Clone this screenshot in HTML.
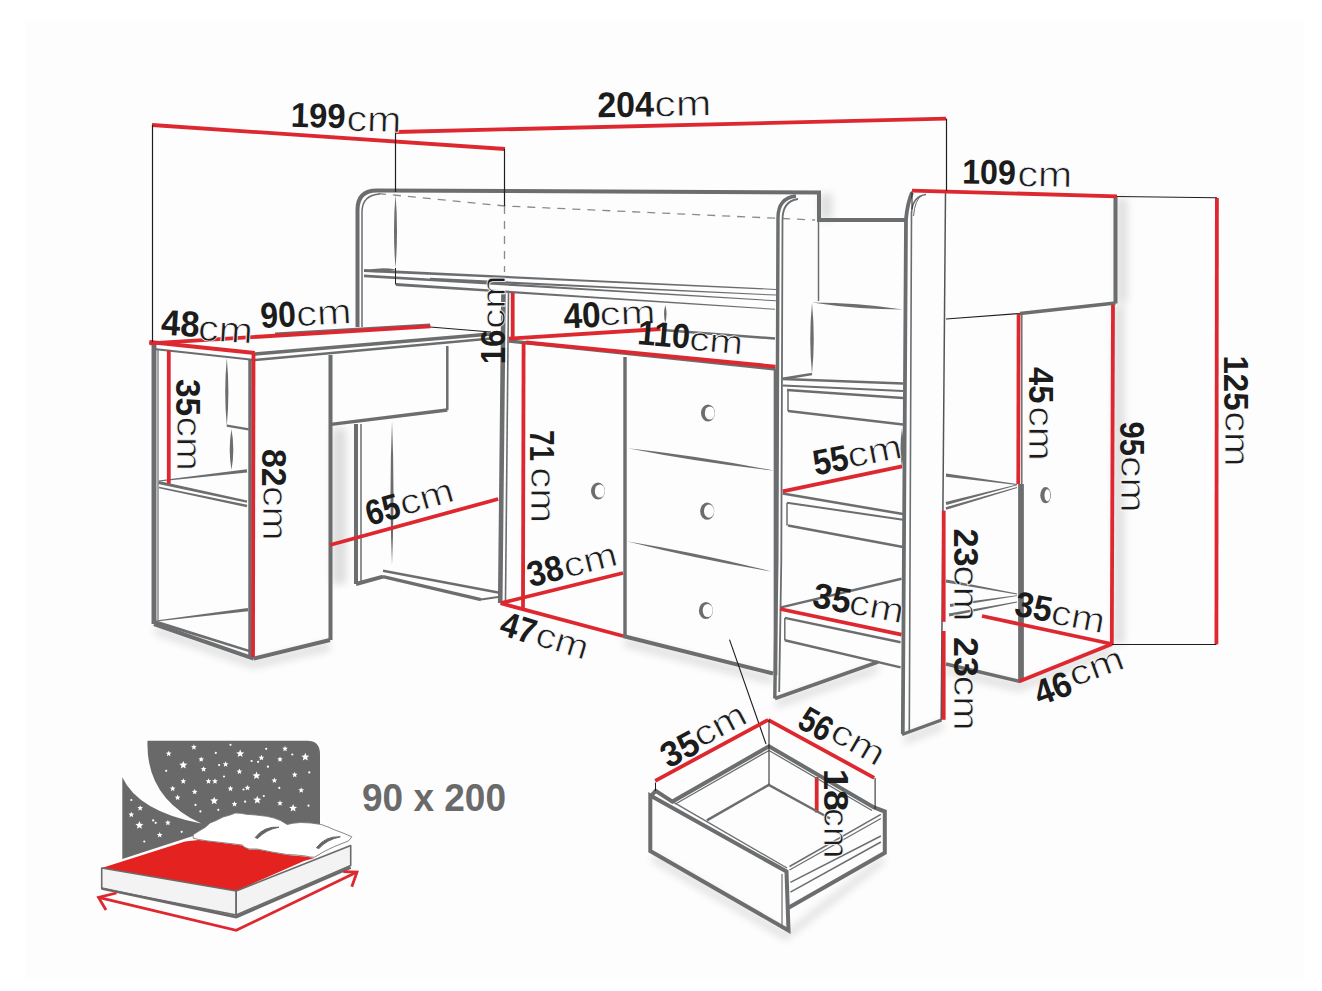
<!DOCTYPE html>
<html><head><meta charset="utf-8"><style>
html,body{margin:0;padding:0;background:#fff;}
svg{display:block;font-family:"Liberation Sans",sans-serif;}
</style></head><body>
<svg width="1322" height="991" viewBox="0 0 1322 991">
<rect width="1322" height="991" fill="#fff"/>
<rect x="25" y="20" width="1279" height="960" fill="#fdfdfd"/>
<defs><filter id="bl" x="-20%" y="-20%" width="140%" height="140%"><feGaussianBlur stdDeviation="4"/></filter></defs>
<g filter="url(#bl)" opacity="0.13" fill="#000" stroke="none"><polygon points="1117,198 1127,198 1127,303 1117,303"/><polygon points="1114,306 1124,306 1124,644 1114,644"/><polygon points="332,428 346,428 346,584 332,584"/><polygon points="820,194 832,194 832,220 820,220"/><polygon points="624,638 773,676 773,684 624,646"/><polygon points="776,700 878,664 878,672 776,708"/><polygon points="946,666 1019,683 1112,646 1112,654 1019,691 946,674"/><polygon points="652,853 786,932 884,855 884,863 786,940 652,861"/><polygon points="155,626 254,660 330,642 330,650 254,668 155,634"/><polygon points="904,736 943,721 943,729 904,744"/></g>
<path d="M357.5,327 L357.5,210 Q357.5,190.5 377,190.5 L819,192.5 L819,220 L905,220" stroke="#6b6d6f" stroke-width="4.02" fill="none" />
<path d="M362,327 L362,212 Q362,195 380,194" stroke="#6b6d6f" stroke-width="1.5" fill="none" />
<path d="M378,193.5 L505,206 L815,220" stroke="#8a8a8a" stroke-width="1.3" fill="none" stroke-dasharray="8,7"/>
<path d="M504.5,206 L504.5,272" stroke="#8a8a8a" stroke-width="1.3" fill="none" stroke-dasharray="8,7"/>
<path d="M395.5,194 Q392.5,231.0 395.5,268 Q398.5,231.0 395.5,194Z" fill="#6b6d6f"/>
<polygon points="363.94,271.90 775.98,289.90 776.02,288.90 364.06,269.10" fill="#6b6d6f"/>
<polygon points="429.94,280.30 775.98,295.60 776.02,294.60 430.06,277.70" fill="#6b6d6f"/>
<polygon points="363.92,277.20 775.97,301.30 776.03,300.30 364.08,274.40" fill="#6b6d6f"/>
<polygon points="395.91,285.90 774.97,309.80 775.03,308.80 396.09,283.10" fill="#6b6d6f"/>
<polyline points="395.5,268 395.5,284.5" stroke="#1e1e1e" stroke-width="1" fill="none" stroke-linejoin="miter" />
<path d="M364,271 Q380.2,274.2 396,269.5 Q379.8,266.3 364,271Z" fill="#6b6d6f"/>
<path d="M774.8,698.5 L776.8,560 L778,218 Q778,198 796,196" stroke="#6b6d6f" stroke-width="3.45" fill="none" />
<path d="M779.2,692 L781.3,560 L782.5,220 Q782.5,201 798,199" stroke="#6b6d6f" stroke-width="1.8" fill="none" />
<line x1="818.5" y1="220" x2="818.5" y2="301" stroke="#6b6d6f" stroke-width="1.5" />
<path d="M902.8,734 L906,219 Q907.5,203 912,192.5" stroke="#6b6d6f" stroke-width="3.79" fill="none" />
<path d="M909.3,731 L911.5,213 Q912.5,196 926,194.5" stroke="#6b6d6f" stroke-width="1.6" fill="none" />
<path d="M913.5,216 Q915,199 922,195.5" stroke="#6b6d6f" stroke-width="1" fill="none" />
<line x1="912" y1="191" x2="912" y2="209" stroke="#1e1e1e" stroke-width="1" />
<line x1="945.5" y1="192" x2="941.2" y2="720" stroke="#555" stroke-width="1.5" />
<polyline points="902,734.5 941.5,720" stroke="#6b6d6f" stroke-width="3.45" fill="none" stroke-linejoin="miter" />
<polyline points="775,698.5 878,662" stroke="#6b6d6f" stroke-width="3.45" fill="none" stroke-linejoin="miter" />
<path d="M812,302.5 Q857.2,309.5 903,309.5 Q857.8,302.5 812,302.5Z" fill="#6b6d6f"/>
<path d="M812,303 Q808.5,338.5 812,374 Q815.5,338.5 812,303Z" fill="#6b6d6f"/>
<polyline points="782.7,378.7 812,374" stroke="#6b6d6f" stroke-width="2.5" fill="none" stroke-linejoin="miter" />
<line x1="782.7" y1="379" x2="903" y2="383.5" stroke="#6b6d6f" stroke-width="2.5" />
<line x1="782.7" y1="385.5" x2="903" y2="391" stroke="#6b6d6f" stroke-width="2" />
<line x1="787" y1="390" x2="903" y2="398" stroke="#6b6d6f" stroke-width="2.5" />
<line x1="788" y1="390" x2="788" y2="411" stroke="#6b6d6f" stroke-width="1.5" />
<line x1="788" y1="411" x2="903" y2="424.5" stroke="#6b6d6f" stroke-width="2.5" />
<line x1="782.7" y1="493.6" x2="903" y2="514" stroke="#6b6d6f" stroke-width="2.5" />
<line x1="787" y1="502.7" x2="903" y2="519.7" stroke="#6b6d6f" stroke-width="2" />
<line x1="787" y1="503" x2="787" y2="525.4" stroke="#6b6d6f" stroke-width="1.5" />
<line x1="788" y1="525.4" x2="903" y2="547" stroke="#6b6d6f" stroke-width="2.5" />
<path d="M902,428 Q899.0,448.0 902,468 Q905.0,448.0 902,428Z" fill="#6b6d6f"/>
<line x1="780" y1="607.6" x2="901.5" y2="578.7" stroke="#6b6d6f" stroke-width="2.5" />
<line x1="784.8" y1="617.9" x2="900.6" y2="642.2" stroke="#6b6d6f" stroke-width="2.5" />
<line x1="784.8" y1="618" x2="784.8" y2="640.3" stroke="#6b6d6f" stroke-width="1.5" />
<line x1="784.8" y1="640.3" x2="900.6" y2="667.4" stroke="#6b6d6f" stroke-width="2.5" />
<line x1="1115.5" y1="196" x2="1115.5" y2="303.5" stroke="#6b6d6f" stroke-width="4.02" />
<line x1="1115.5" y1="303" x2="1020" y2="313.5" stroke="#6b6d6f" stroke-width="3.45" />
<line x1="1020" y1="313.5" x2="946" y2="319" stroke="#1e1e1e" stroke-width="1.2" />
<line x1="1021.8" y1="313" x2="1021.8" y2="484" stroke="#6b6d6f" stroke-width="1.5" />
<line x1="1021" y1="484" x2="1021" y2="681" stroke="#6b6d6f" stroke-width="5.75" />
<polyline points="946,664 1020,681.5" stroke="#6b6d6f" stroke-width="3.45" fill="none" stroke-linejoin="miter" />
<polygon points="945.79,476.79 1016.95,484.90 1017.05,484.10 946.21,473.61" fill="#6b6d6f"/>
<polygon points="946.41,505.05 1017.10,485.19 1016.90,484.41 945.59,501.95" fill="#6b6d6f"/>
<polygon points="946.37,509.75 1017.11,487.88 1016.89,487.12 945.63,507.25" fill="#6b6d6f"/>
<polygon points="945.71,582.57 1016.93,594.39 1017.07,593.61 946.29,579.43" fill="#6b6d6f"/>
<polygon points="950.21,606.88 1017.06,596.10 1016.94,595.30 949.79,603.92" fill="#6b6d6f"/>
<polygon points="949.28,616.47 1017.08,602.39 1016.92,601.61 948.72,613.53" fill="#6b6d6f"/>
<ellipse cx="1045.6" cy="495.2" rx="5.3" ry="8.1" fill="#6b6d6f"/><ellipse cx="1047.3999999999999" cy="495.2" rx="2.9" ry="6" fill="#fff"/>
<line x1="503.5" y1="291" x2="500.2" y2="603" stroke="#6b6d6f" stroke-width="4.6" />
<line x1="508.5" y1="292" x2="505.5" y2="601" stroke="#6b6d6f" stroke-width="1.6" />
<line x1="509" y1="341" x2="775.5" y2="369" stroke="#6b6d6f" stroke-width="3.45" />
<line x1="625" y1="357" x2="625" y2="636" stroke="#6b6d6f" stroke-width="3.45" />
<line x1="775.5" y1="369" x2="775.5" y2="675" stroke="#6b6d6f" stroke-width="3.68" />
<line x1="623" y1="636" x2="773" y2="673.5" stroke="#6b6d6f" stroke-width="4.02" />
<path d="M627.9,448.2 Q700.2,462.5 773.4,470.5 Q701.1,456.2 627.9,448.2Z" fill="#6b6d6f"/>
<path d="M626.6,541.3 Q698.4,559.5 771.6,571.5 Q699.8,553.3 626.6,541.3Z" fill="#6b6d6f"/>
<ellipse cx="708" cy="413" rx="7" ry="8.6" fill="#6b6d6f"/><ellipse cx="709.8" cy="413" rx="5" ry="6.6" fill="#fff"/>
<ellipse cx="707.2" cy="511.2" rx="7" ry="8.6" fill="#6b6d6f"/><ellipse cx="709.0" cy="511.2" rx="5" ry="6.6" fill="#fff"/>
<ellipse cx="705.9" cy="610.5" rx="7" ry="8.6" fill="#6b6d6f"/><ellipse cx="707.6999999999999" cy="610.5" rx="5" ry="6.6" fill="#fff"/>
<ellipse cx="598" cy="491" rx="7" ry="8.6" fill="#6b6d6f"/><ellipse cx="599.8" cy="491" rx="5" ry="6.6" fill="#fff"/>
<path d="M665.3,305 Q662.8,314.0 665.3,323 Q667.8,314.0 665.3,305Z" fill="#6b6d6f"/>
<line x1="662" y1="330" x2="775" y2="338.5" stroke="#6b6d6f" stroke-width="2.5" />
<line x1="729.5" y1="639.6" x2="766" y2="744" stroke="#1e1e1e" stroke-width="1.1" />
<line x1="154" y1="343" x2="154" y2="624" stroke="#6b6d6f" stroke-width="4.94" />
<line x1="158" y1="349" x2="158" y2="620" stroke="#6b6d6f" stroke-width="1.2" />
<line x1="154" y1="624" x2="253.7" y2="658.6" stroke="#6b6d6f" stroke-width="4.02" />
<line x1="250" y1="360" x2="250" y2="656" stroke="#6b6d6f" stroke-width="3.45" />
<line x1="253.7" y1="658.6" x2="330" y2="640" stroke="#6b6d6f" stroke-width="4.02" />
<line x1="330.5" y1="355" x2="330.5" y2="640" stroke="#6b6d6f" stroke-width="4.02" />
<line x1="254.8" y1="354" x2="491" y2="334" stroke="#6b6d6f" stroke-width="3.45" />
<line x1="254.8" y1="360" x2="491" y2="338.5" stroke="#6b6d6f" stroke-width="2.5" />
<line x1="430" y1="327" x2="491" y2="332" stroke="#1e1e1e" stroke-width="1" />
<line x1="275" y1="333.5" x2="430" y2="324.5" stroke="#6b6d6f" stroke-width="2" />
<line x1="154" y1="349" x2="254.8" y2="360" stroke="#6b6d6f" stroke-width="2" />
<path d="M226.8,358 Q223.6,392.0 226.8,426 Q230.0,392.0 226.8,358Z" fill="#6b6d6f"/>
<line x1="226.8" y1="425.6" x2="248.7" y2="429.3" stroke="#6b6d6f" stroke-width="2.2" />
<path d="M231.5,429 Q227.9,449.5 231.5,470 Q235.1,449.5 231.5,429Z" fill="#6b6d6f"/>
<polygon points="158.66,481.50 247.18,472.39 246.82,469.21 158.54,480.50" fill="#6b6d6f"/>
<polygon points="158.28,483.97 246.77,502.68 247.23,500.52 158.92,481.03" fill="#6b6d6f"/>
<polygon points="158.85,488.23 246.74,507.22 247.26,504.78 159.15,486.77" fill="#6b6d6f"/>
<polygon points="156.06,621.50 248.20,611.29 247.80,608.11 155.94,620.50" fill="#6b6d6f"/>
<polygon points="155.55,623.43 250.17,652.45 250.83,650.35 156.45,620.57" fill="#6b6d6f"/>
<line x1="331" y1="424.4" x2="447.3" y2="410" stroke="#6b6d6f" stroke-width="3.45" />
<line x1="447.3" y1="346" x2="447.3" y2="410" stroke="#6b6d6f" stroke-width="2.5" />
<line x1="356" y1="424" x2="356" y2="584" stroke="#6b6d6f" stroke-width="4.02" />
<line x1="361" y1="424" x2="361" y2="581" stroke="#6b6d6f" stroke-width="1.5" />
<path d="M392,421 Q389.0,493.0 392,565 Q395.0,493.0 392,421Z" fill="#6b6d6f"/>
<line x1="356" y1="584" x2="383" y2="576.6" stroke="#6b6d6f" stroke-width="4.02" />
<line x1="383" y1="570.8" x2="498.2" y2="592.4" stroke="#6b6d6f" stroke-width="2.5" />
<line x1="383" y1="576.6" x2="481" y2="599.6" stroke="#6b6d6f" stroke-width="3.45" />
<line x1="481" y1="599.6" x2="498" y2="597" stroke="#6b6d6f" stroke-width="2" />
<line x1="152" y1="125" x2="505" y2="149" stroke="#de2830" stroke-width="3.8" />
<line x1="396" y1="132" x2="946" y2="118.6" stroke="#de2830" stroke-width="3.8" />
<line x1="912" y1="190.6" x2="1117" y2="196.3" stroke="#de2830" stroke-width="3.8" />
<line x1="149.4" y1="342" x2="254.8" y2="353" stroke="#de2830" stroke-width="3.8" />
<line x1="149.4" y1="343.3" x2="430.4" y2="326.3" stroke="#de2830" stroke-width="3.8" />
<line x1="168.8" y1="350.6" x2="168.8" y2="483.8" stroke="#de2830" stroke-width="3.8" />
<line x1="253.5" y1="353" x2="253" y2="657" stroke="#de2830" stroke-width="3.8" />
<line x1="330" y1="545" x2="498.2" y2="499" stroke="#de2830" stroke-width="3.8" />
<line x1="512.7" y1="292.7" x2="512.7" y2="338.7" stroke="#de2830" stroke-width="3.8" />
<line x1="509" y1="338.7" x2="660.5" y2="329" stroke="#de2830" stroke-width="3.8" />
<line x1="526" y1="342.4" x2="775.5" y2="366.6" stroke="#de2830" stroke-width="3.8" />
<line x1="523.6" y1="342" x2="523" y2="608" stroke="#de2830" stroke-width="3.8" />
<line x1="500.6" y1="603.2" x2="623" y2="573" stroke="#de2830" stroke-width="3.8" />
<line x1="500.6" y1="603.2" x2="623" y2="636" stroke="#de2830" stroke-width="3.8" />
<line x1="782.7" y1="491.3" x2="902" y2="466.3" stroke="#de2830" stroke-width="3.8" />
<line x1="780.1" y1="609" x2="901.5" y2="634.7" stroke="#de2830" stroke-width="3.8" />
<line x1="943.7" y1="510.6" x2="943.7" y2="621.8" stroke="#de2830" stroke-width="3.8" />
<line x1="943.7" y1="631" x2="943.7" y2="719.8" stroke="#de2830" stroke-width="3.8" />
<line x1="1018.6" y1="313.8" x2="1018.3" y2="484" stroke="#de2830" stroke-width="3.8" />
<line x1="1113" y1="304.7" x2="1111.8" y2="644.3" stroke="#de2830" stroke-width="3.8" />
<line x1="1216.9" y1="198" x2="1216.4" y2="644.3" stroke="#de2830" stroke-width="3.8" />
<line x1="1112" y1="644" x2="982" y2="616" stroke="#de2830" stroke-width="3.8" />
<line x1="1112" y1="644" x2="1019" y2="681.4" stroke="#de2830" stroke-width="3.8" />
<line x1="655.2" y1="780.8" x2="768.2" y2="719.8" stroke="#de2830" stroke-width="3.8" />
<line x1="768.2" y1="719.8" x2="874.2" y2="777.8" stroke="#de2830" stroke-width="3.8" />
<line x1="816.7" y1="777" x2="816.7" y2="812.4" stroke="#de2830" stroke-width="3.8" />
<line x1="152.5" y1="125" x2="152.5" y2="342" stroke="#1e1e1e" stroke-width="1.2" />
<line x1="395.5" y1="132" x2="395.5" y2="192" stroke="#1e1e1e" stroke-width="1.2" />
<line x1="504.5" y1="149" x2="504.5" y2="206" stroke="#1e1e1e" stroke-width="1.2" />
<line x1="946.5" y1="118.6" x2="946.5" y2="191" stroke="#1e1e1e" stroke-width="1.2" />
<line x1="1117" y1="196.5" x2="1217" y2="197.7" stroke="#1e1e1e" stroke-width="1.1" />
<line x1="1112" y1="644.5" x2="1216.4" y2="644.5" stroke="#1e1e1e" stroke-width="1.2" />
<polyline points="651.8,795 655.7,790.8 672.4,801.6 769,746.3 874,807.5 884.8,811.5 884.8,852.8 788.5,907.8" stroke="#6b6d6f" stroke-width="4.02" fill="none" stroke-linejoin="miter" />
<line x1="675.4" y1="804" x2="769" y2="750.5" stroke="#6b6d6f" stroke-width="1.3" />
<line x1="769" y1="750.5" x2="872" y2="810.5" stroke="#6b6d6f" stroke-width="1.3" />
<polyline points="706.9,820.3 768.8,784.9 830,818.5" stroke="#6b6d6f" stroke-width="2.5" fill="none" stroke-linejoin="miter" />
<line x1="789.5" y1="866.5" x2="880.9" y2="814.4" stroke="#6b6d6f" stroke-width="1.5" />
<line x1="789.5" y1="870" x2="880.9" y2="818.5" stroke="#6b6d6f" stroke-width="1.2" />
<line x1="790.4" y1="882.3" x2="880.9" y2="836" stroke="#6b6d6f" stroke-width="1.5" />
<line x1="790.4" y1="892.1" x2="880.9" y2="842" stroke="#6b6d6f" stroke-width="1.5" />
<polygon points="650.3,795.5 786.5,871.5 788.5,930.5 650.3,851" stroke="#6b6d6f" stroke-width="4.02" fill="none" stroke-linejoin="miter" />
<line x1="672.4" y1="801.6" x2="787" y2="868" stroke="#6b6d6f" stroke-width="1.3" />
<line x1="782" y1="874" x2="782" y2="929" stroke="#6b6d6f" stroke-width="1.2" />
<line x1="655.5" y1="782.6" x2="655.5" y2="791" stroke="#1e1e1e" stroke-width="1" />
<line x1="769" y1="720" x2="769" y2="784.4" stroke="#1e1e1e" stroke-width="1" />
<line x1="875.1" y1="778" x2="875.1" y2="809" stroke="#1e1e1e" stroke-width="1" />
<g transform="translate(290.4,126.8) rotate(1.6)"><text x="0" y="0" font-weight="bold" font-size="34.5" textLength="54.87" lengthAdjust="spacingAndGlyphs" fill="#1c1c1c">199</text></g>
<g transform="translate(346.2,130.7) rotate(1.6)"><text x="0" y="0" font-size="36.0" textLength="54.92" lengthAdjust="spacingAndGlyphs" fill="#1c1c1c" stroke="#fff" stroke-width="0.7">cm</text></g>
<g transform="translate(597.4,117.3) rotate(-0.8)"><text x="0" y="0" font-weight="bold" font-size="35.64" textLength="56.74" lengthAdjust="spacingAndGlyphs" fill="#1c1c1c">204</text></g>
<g transform="translate(654.6,116.4) rotate(-0.8)"><text x="0" y="0" font-size="36.0" textLength="56.81" lengthAdjust="spacingAndGlyphs" fill="#1c1c1c" stroke="#fff" stroke-width="0.7">cm</text></g>
<g transform="translate(961.9,183.5) rotate(1.0)"><text x="0" y="0" font-weight="bold" font-size="34.64" textLength="53.89" lengthAdjust="spacingAndGlyphs" fill="#1c1c1c">109</text></g>
<g transform="translate(1017.2,186.2) rotate(1.0)"><text x="0" y="0" font-size="36.0" textLength="54.8" lengthAdjust="spacingAndGlyphs" fill="#1c1c1c" stroke="#fff" stroke-width="0.7">cm</text></g>
<g transform="translate(160.5,334.6) rotate(3.5)"><text x="0" y="0" font-weight="bold" font-size="35.89" textLength="38.33" lengthAdjust="spacingAndGlyphs" fill="#1c1c1c">48</text></g>
<g transform="translate(197.4,340.1) rotate(3.5)"><text x="0" y="0" font-size="36.0" textLength="54.8" lengthAdjust="spacingAndGlyphs" fill="#1c1c1c" stroke="#fff" stroke-width="0.7">cm</text></g>
<g transform="translate(261.0,327.9) rotate(-3)"><text x="0" y="0" font-weight="bold" font-size="35.76" textLength="35.5" lengthAdjust="spacingAndGlyphs" fill="#1c1c1c">90</text></g>
<g transform="translate(296.8,326.2) rotate(-3)"><text x="0" y="0" font-size="35.24" textLength="55.21" lengthAdjust="spacingAndGlyphs" fill="#1c1c1c" stroke="#fff" stroke-width="0.7">cm</text></g>
<g transform="translate(505.0,364.3) rotate(-90)"><text x="0" y="0" font-weight="bold" font-size="35.37" textLength="34.74" lengthAdjust="spacingAndGlyphs" fill="#1c1c1c">16</text></g>
<g transform="translate(505.0,328.8) rotate(-90)"><text x="0" y="0" font-size="33.0" textLength="53.3" lengthAdjust="spacingAndGlyphs" fill="#1c1c1c" stroke="#fff" stroke-width="0.7">cm</text></g>
<g transform="translate(563.9,328.4) rotate(-2.5)"><text x="0" y="0" font-weight="bold" font-size="35.91" textLength="37.33" lengthAdjust="spacingAndGlyphs" fill="#1c1c1c">40</text></g>
<g transform="translate(600.0,325.4) rotate(-2.5)"><text x="0" y="0" font-size="33.0" textLength="55.95" lengthAdjust="spacingAndGlyphs" fill="#1c1c1c" stroke="#fff" stroke-width="0.7">cm</text></g>
<g transform="translate(636.8,344.1) rotate(5)"><text x="0" y="0" font-weight="bold" font-size="34.5" textLength="52.46" lengthAdjust="spacingAndGlyphs" fill="#1c1c1c">110</text></g>
<g transform="translate(688.4,349.7) rotate(5)"><text x="0" y="0" font-size="33.0" textLength="54.13" lengthAdjust="spacingAndGlyphs" fill="#1c1c1c" stroke="#fff" stroke-width="0.7">cm</text></g>
<g transform="translate(176.1,379.0) rotate(90)"><text x="0" y="0" font-weight="bold" font-size="34.5" textLength="37.12" lengthAdjust="spacingAndGlyphs" fill="#1c1c1c">35</text></g>
<g transform="translate(176.8,416.5) rotate(90)"><text x="0" y="0" font-size="34.19" textLength="54.37" lengthAdjust="spacingAndGlyphs" fill="#1c1c1c" stroke="#fff" stroke-width="0.7">cm</text></g>
<g transform="translate(261.9,449.0) rotate(90)"><text x="0" y="0" font-weight="bold" font-size="35.58" textLength="37.67" lengthAdjust="spacingAndGlyphs" fill="#1c1c1c">82</text></g>
<g transform="translate(262.8,486.0) rotate(90)"><text x="0" y="0" font-size="34.19" textLength="54.69" lengthAdjust="spacingAndGlyphs" fill="#1c1c1c" stroke="#fff" stroke-width="0.7">cm</text></g>
<g transform="translate(530.4,429.9) rotate(90)"><text x="0" y="0" font-weight="bold" font-size="34.5" textLength="30.97" lengthAdjust="spacingAndGlyphs" fill="#1c1c1c">71</text></g>
<g transform="translate(531.4,467.2) rotate(90)"><text x="0" y="0" font-size="35.28" textLength="55.83" lengthAdjust="spacingAndGlyphs" fill="#1c1c1c" stroke="#fff" stroke-width="0.7">cm</text></g>
<g transform="translate(369.5,526.1) rotate(-16)"><text x="0" y="0" font-weight="bold" font-size="35.6" textLength="34.51" lengthAdjust="spacingAndGlyphs" fill="#1c1c1c">65</text></g>
<g transform="translate(403.2,515.7) rotate(-16)"><text x="0" y="0" font-size="34.5" textLength="54.85" lengthAdjust="spacingAndGlyphs" fill="#1c1c1c" stroke="#fff" stroke-width="0.7">cm</text></g>
<g transform="translate(815.4,475.6) rotate(-11)"><text x="0" y="0" font-weight="bold" font-size="35.6" textLength="35.59" lengthAdjust="spacingAndGlyphs" fill="#1c1c1c">55</text></g>
<g transform="translate(849.8,467.8) rotate(-11)"><text x="0" y="0" font-size="34.5" textLength="54.74" lengthAdjust="spacingAndGlyphs" fill="#1c1c1c" stroke="#fff" stroke-width="0.7">cm</text></g>
<g transform="translate(530.5,587.2) rotate(-14)"><text x="0" y="0" font-weight="bold" font-size="35.6" textLength="36.23" lengthAdjust="spacingAndGlyphs" fill="#1c1c1c">38</text></g>
<g transform="translate(566.4,578.0) rotate(-14)"><text x="0" y="0" font-size="34.5" textLength="54.45" lengthAdjust="spacingAndGlyphs" fill="#1c1c1c" stroke="#fff" stroke-width="0.7">cm</text></g>
<g transform="translate(498.0,634.2) rotate(17)"><text x="0" y="0" font-weight="bold" font-size="35.6" textLength="35.65" lengthAdjust="spacingAndGlyphs" fill="#1c1c1c">47</text></g>
<g transform="translate(533.5,644.5) rotate(17)"><text x="0" y="0" font-size="34.5" textLength="53.38" lengthAdjust="spacingAndGlyphs" fill="#1c1c1c" stroke="#fff" stroke-width="0.7">cm</text></g>
<g transform="translate(811.3,606.8) rotate(10.3)"><text x="0" y="0" font-weight="bold" font-size="35.6" textLength="38.14" lengthAdjust="spacingAndGlyphs" fill="#1c1c1c">35</text></g>
<g transform="translate(847.6,613.3) rotate(10.3)"><text x="0" y="0" font-size="34.5" textLength="55.05" lengthAdjust="spacingAndGlyphs" fill="#1c1c1c" stroke="#fff" stroke-width="0.7">cm</text></g>
<g transform="translate(953.9,528.5) rotate(90)"><text x="0" y="0" font-weight="bold" font-size="35.31" textLength="38.15" lengthAdjust="spacingAndGlyphs" fill="#1c1c1c">23</text></g>
<g transform="translate(953.7,565.3) rotate(90)"><text x="0" y="0" font-size="34.5" textLength="56.25" lengthAdjust="spacingAndGlyphs" fill="#1c1c1c" stroke="#fff" stroke-width="0.7">cm</text></g>
<g transform="translate(953.9,637.0) rotate(90)"><text x="0" y="0" font-weight="bold" font-size="35.31" textLength="39.81" lengthAdjust="spacingAndGlyphs" fill="#1c1c1c">23</text></g>
<g transform="translate(953.7,675.5) rotate(90)"><text x="0" y="0" font-size="34.5" textLength="55.26" lengthAdjust="spacingAndGlyphs" fill="#1c1c1c" stroke="#fff" stroke-width="0.7">cm</text></g>
<g transform="translate(1013.3,615.3) rotate(10.5)"><text x="0" y="0" font-weight="bold" font-size="35.6" textLength="37.21" lengthAdjust="spacingAndGlyphs" fill="#1c1c1c">35</text></g>
<g transform="translate(1049.5,623.3) rotate(10.5)"><text x="0" y="0" font-size="34.5" textLength="54.01" lengthAdjust="spacingAndGlyphs" fill="#1c1c1c" stroke="#fff" stroke-width="0.7">cm</text></g>
<g transform="translate(1039.4,706.1) rotate(-20)"><text x="0" y="0" font-weight="bold" font-size="35.6" textLength="37.25" lengthAdjust="spacingAndGlyphs" fill="#1c1c1c">46</text></g>
<g transform="translate(1073.8,687.0) rotate(-20)"><text x="0" y="0" font-size="34.5" textLength="55.99" lengthAdjust="spacingAndGlyphs" fill="#1c1c1c" stroke="#fff" stroke-width="0.7">cm</text></g>
<g transform="translate(1028.9,366.9) rotate(90)"><text x="0" y="0" font-weight="bold" font-size="35.31" textLength="36.57" lengthAdjust="spacingAndGlyphs" fill="#1c1c1c">45</text></g>
<g transform="translate(1028.7,406.2) rotate(90)"><text x="0" y="0" font-size="34.5" textLength="54.57" lengthAdjust="spacingAndGlyphs" fill="#1c1c1c" stroke="#fff" stroke-width="0.7">cm</text></g>
<g transform="translate(1120.1,421.5) rotate(90)"><text x="0" y="0" font-weight="bold" font-size="34.58" textLength="34.26" lengthAdjust="spacingAndGlyphs" fill="#1c1c1c">95</text></g>
<g transform="translate(1120.7,456.0) rotate(90)"><text x="0" y="0" font-size="34.56" textLength="56.89" lengthAdjust="spacingAndGlyphs" fill="#1c1c1c" stroke="#fff" stroke-width="0.7">cm</text></g>
<g transform="translate(1223.9,355.4) rotate(90)"><text x="0" y="0" font-weight="bold" font-size="35.59" textLength="55.37" lengthAdjust="spacingAndGlyphs" fill="#1c1c1c">125</text></g>
<g transform="translate(1224.8,411.3) rotate(90)"><text x="0" y="0" font-size="35.85" textLength="55.38" lengthAdjust="spacingAndGlyphs" fill="#1c1c1c" stroke="#fff" stroke-width="0.7">cm</text></g>
<g transform="translate(668.6,768.8) rotate(-28)"><text x="0" y="0" font-weight="bold" font-size="35.6" textLength="38.32" lengthAdjust="spacingAndGlyphs" fill="#1c1c1c">35</text></g>
<g transform="translate(700.4,748.0) rotate(-28)"><text x="0" y="0" font-size="34.5" textLength="55.53" lengthAdjust="spacingAndGlyphs" fill="#1c1c1c" stroke="#fff" stroke-width="0.7">cm</text></g>
<g transform="translate(795.8,726.4) rotate(30)"><text x="0" y="0" font-weight="bold" font-size="35.6" textLength="32.65" lengthAdjust="spacingAndGlyphs" fill="#1c1c1c">56</text></g>
<g transform="translate(828.1,738.6) rotate(30)"><text x="0" y="0" font-size="34.5" textLength="56.4" lengthAdjust="spacingAndGlyphs" fill="#1c1c1c" stroke="#fff" stroke-width="0.7">cm</text></g>
<g transform="translate(824.3,768.8) rotate(90)"><text x="0" y="0" font-weight="bold" font-size="35.31" textLength="42.52" lengthAdjust="spacingAndGlyphs" fill="#1c1c1c">18</text></g>
<g transform="translate(824.4,808.1) rotate(90)"><text x="0" y="0" font-size="35.6" textLength="50.45" lengthAdjust="spacingAndGlyphs" fill="#1c1c1c" stroke="#fff" stroke-width="0.7">cm</text></g>
<path d="M147.5,740.7 L307,740.7 Q320,740.7 320,754 L320,824 L193,836 L122.3,859 L122.3,777.3 Q138.3,811.6 201.2,823.6 Q145.6,797.9 147.5,740.7Z" fill="#696969"/>
<polygon points="183.30,760.90 184.41,763.57 187.29,763.80 185.10,765.68 185.77,768.50 183.30,766.99 180.83,768.50 181.50,765.68 179.31,763.80 182.19,763.57" fill="#fff"/>
<polygon points="240.20,749.50 241.31,752.17 244.19,752.40 242.00,754.28 242.67,757.10 240.20,755.59 237.73,757.10 238.40,754.28 236.21,752.40 239.09,752.17" fill="#fff"/>
<polygon points="305.30,752.80 306.41,755.47 309.29,755.70 307.10,757.58 307.77,760.40 305.30,758.89 302.83,760.40 303.50,757.58 301.31,755.70 304.19,755.47" fill="#fff"/>
<polygon points="256.50,771.50 257.61,774.17 260.49,774.40 258.30,776.28 258.97,779.10 256.50,777.59 254.03,779.10 254.70,776.28 252.51,774.40 255.39,774.17" fill="#fff"/>
<polygon points="214.20,796.70 215.31,799.37 218.19,799.60 216.00,801.48 216.67,804.30 214.20,802.79 211.73,804.30 212.40,801.48 210.21,799.60 213.09,799.37" fill="#fff"/>
<polygon points="257.30,795.80 258.41,798.47 261.29,798.70 259.10,800.58 259.77,803.40 257.30,801.89 254.83,803.40 255.50,800.58 253.31,798.70 256.19,798.47" fill="#fff"/>
<polygon points="293.10,804.00 294.21,806.67 297.09,806.90 294.90,808.78 295.57,811.60 293.10,810.09 290.63,811.60 291.30,808.78 289.11,806.90 291.99,806.67" fill="#fff"/>
<polygon points="139.40,821.10 140.51,823.77 143.39,824.00 141.20,825.88 141.87,828.70 139.40,827.19 136.93,828.70 137.60,825.88 135.41,824.00 138.29,823.77" fill="#fff"/>
<polygon points="193.90,744.20 194.69,746.11 196.75,746.27 195.18,747.62 195.66,749.63 193.90,748.55 192.14,749.63 192.62,747.62 191.05,746.27 193.11,746.11" fill="#fff"/>
<polygon points="168.70,750.70 169.49,752.61 171.55,752.77 169.98,754.12 170.46,756.13 168.70,755.05 166.94,756.13 167.42,754.12 165.85,752.77 167.91,752.61" fill="#fff"/>
<polygon points="201.20,756.40 201.99,758.31 204.05,758.47 202.48,759.82 202.96,761.83 201.20,760.75 199.44,761.83 199.92,759.82 198.35,758.47 200.41,758.31" fill="#fff"/>
<polygon points="203.60,766.20 204.39,768.11 206.45,768.27 204.88,769.62 205.36,771.63 203.60,770.55 201.84,771.63 202.32,769.62 200.75,768.27 202.81,768.11" fill="#fff"/>
<polygon points="225.60,761.30 226.39,763.21 228.45,763.37 226.88,764.72 227.36,766.73 225.60,765.65 223.84,766.73 224.32,764.72 222.75,763.37 224.81,763.21" fill="#fff"/>
<polygon points="261.40,754.80 262.19,756.71 264.25,756.87 262.68,758.22 263.16,760.23 261.40,759.15 259.64,760.23 260.12,758.22 258.55,756.87 260.61,756.71" fill="#fff"/>
<polygon points="285.00,745.80 285.79,747.71 287.85,747.87 286.28,749.22 286.76,751.23 285.00,750.15 283.24,751.23 283.72,749.22 282.15,747.87 284.21,747.71" fill="#fff"/>
<polygon points="280.00,756.40 280.79,758.31 282.85,758.47 281.28,759.82 281.76,761.83 280.00,760.75 278.24,761.83 278.72,759.82 277.15,758.47 279.21,758.31" fill="#fff"/>
<polygon points="294.70,771.80 295.49,773.71 297.55,773.87 295.98,775.22 296.46,777.23 294.70,776.15 292.94,777.23 293.42,775.22 291.85,773.87 293.91,773.71" fill="#fff"/>
<polygon points="183.30,778.30 184.09,780.21 186.15,780.37 184.58,781.72 185.06,783.73 183.30,782.65 181.54,783.73 182.02,781.72 180.45,780.37 182.51,780.21" fill="#fff"/>
<polygon points="208.50,778.30 209.29,780.21 211.35,780.37 209.78,781.72 210.26,783.73 208.50,782.65 206.74,783.73 207.22,781.72 205.65,780.37 207.71,780.21" fill="#fff"/>
<polygon points="215.00,778.30 215.79,780.21 217.85,780.37 216.28,781.72 216.76,783.73 215.00,782.65 213.24,783.73 213.72,781.72 212.15,780.37 214.21,780.21" fill="#fff"/>
<polygon points="239.40,768.60 240.19,770.51 242.25,770.67 240.68,772.02 241.16,774.03 239.40,772.95 237.64,774.03 238.12,772.02 236.55,770.67 238.61,770.51" fill="#fff"/>
<polygon points="274.40,777.50 275.19,779.41 277.25,779.57 275.68,780.92 276.16,782.93 274.40,781.85 272.64,782.93 273.12,780.92 271.55,779.57 273.61,779.41" fill="#fff"/>
<polygon points="172.70,785.70 173.49,787.61 175.55,787.77 173.98,789.12 174.46,791.13 172.70,790.05 170.94,791.13 171.42,789.12 169.85,787.77 171.91,787.61" fill="#fff"/>
<polygon points="194.70,788.90 195.49,790.81 197.55,790.97 195.98,792.32 196.46,794.33 194.70,793.25 192.94,794.33 193.42,792.32 191.85,790.97 193.91,790.81" fill="#fff"/>
<polygon points="230.50,785.70 231.29,787.61 233.35,787.77 231.78,789.12 232.26,791.13 230.50,790.05 228.74,791.13 229.22,789.12 227.65,787.77 229.71,787.61" fill="#fff"/>
<polygon points="247.50,784.90 248.29,786.81 250.35,786.97 248.78,788.32 249.26,790.33 247.50,789.25 245.74,790.33 246.22,788.32 244.65,786.97 246.71,786.81" fill="#fff"/>
<polygon points="301.20,787.30 301.99,789.21 304.05,789.37 302.48,790.72 302.96,792.73 301.20,791.65 299.44,792.73 299.92,790.72 298.35,789.37 300.41,789.21" fill="#fff"/>
<polygon points="177.60,794.60 178.39,796.51 180.45,796.67 178.88,798.02 179.36,800.03 177.60,798.95 175.84,800.03 176.32,798.02 174.75,796.67 176.81,796.51" fill="#fff"/>
<polygon points="234.50,801.10 235.29,803.01 237.35,803.17 235.78,804.52 236.26,806.53 234.50,805.45 232.74,806.53 233.22,804.52 231.65,803.17 233.71,803.01" fill="#fff"/>
<polygon points="280.00,800.30 280.79,802.21 282.85,802.37 281.28,803.72 281.76,805.73 280.00,804.65 278.24,805.73 278.72,803.72 277.15,802.37 279.21,802.21" fill="#fff"/>
<polygon points="140.20,805.20 140.99,807.11 143.05,807.27 141.48,808.62 141.96,810.63 140.20,809.55 138.44,810.63 138.92,808.62 137.35,807.27 139.41,807.11" fill="#fff"/>
<polygon points="131.30,811.70 132.09,813.61 134.15,813.77 132.58,815.12 133.06,817.13 131.30,816.05 129.54,817.13 130.02,815.12 128.45,813.77 130.51,813.61" fill="#fff"/>
<polygon points="167.90,819.80 168.69,821.71 170.75,821.87 169.18,823.22 169.66,825.23 167.90,824.15 166.14,825.23 166.62,823.22 165.05,821.87 167.11,821.71" fill="#fff"/>
<polygon points="159.70,832.00 160.49,833.91 162.55,834.07 160.98,835.42 161.46,837.43 159.70,836.35 157.94,837.43 158.42,835.42 156.85,834.07 158.91,833.91" fill="#fff"/>
<circle cx="230.5" cy="744.8" r="1.1" fill="#fff"/>
<circle cx="215.8" cy="752.9" r="1.1" fill="#fff"/>
<circle cx="266.2" cy="748.8" r="1.1" fill="#fff"/>
<circle cx="292.3" cy="754.5" r="1.1" fill="#fff"/>
<circle cx="251.6" cy="761" r="1.1" fill="#fff"/>
<circle cx="258.1" cy="761.8" r="1.1" fill="#fff"/>
<circle cx="219.1" cy="765.1" r="1.1" fill="#fff"/>
<circle cx="267.9" cy="766.7" r="1.1" fill="#fff"/>
<circle cx="309.3" cy="772.4" r="1.1" fill="#fff"/>
<circle cx="166.2" cy="770.8" r="1.1" fill="#fff"/>
<circle cx="224" cy="776.5" r="1.1" fill="#fff"/>
<circle cx="243.5" cy="789.5" r="1.1" fill="#fff"/>
<circle cx="279.3" cy="787.9" r="1.1" fill="#fff"/>
<circle cx="263.8" cy="796" r="1.1" fill="#fff"/>
<circle cx="195.5" cy="804.9" r="1.1" fill="#fff"/>
<circle cx="245.1" cy="801.7" r="1.1" fill="#fff"/>
<circle cx="200.4" cy="811.4" r="1.1" fill="#fff"/>
<circle cx="218.3" cy="809.8" r="1.1" fill="#fff"/>
<circle cx="308.5" cy="805.7" r="1.1" fill="#fff"/>
<circle cx="131.3" cy="800" r="1.1" fill="#fff"/>
<circle cx="153.2" cy="820.4" r="1.1" fill="#fff"/>
<circle cx="155.7" cy="822.8" r="1.1" fill="#fff"/>
<circle cx="181.7" cy="831.8" r="1.1" fill="#fff"/>
<circle cx="144.3" cy="841.5" r="1.1" fill="#fff"/>
<path d="M101.7,868 L185,841.5 L198.6,840 L219,842.5 L242.2,845.5 L249,849.5 L257.2,849.5 L287.2,855 L304.9,856.5 L314.4,858 L304,861 L236.2,891 Z" fill="#e42320"/>
<path d="M101.7,868 L236.2,891 L236.2,915 L101.7,888.5 Z" fill="#f3f3f3" stroke="#6a6a6a" stroke-width="1.6" stroke-linejoin="round"/>
<path d="M236.2,891 L350.7,845.5 L350.7,865.6 L236.2,915 Z" fill="#f3f3f3" stroke="#6a6a6a" stroke-width="1.6" stroke-linejoin="round"/>
<path d="M101.7,888.5 L236.2,917 L350.7,867.5" fill="none" stroke="#6a6a6a" stroke-width="2.8"/>
<polygon points="193.2,834.7 199,831 205.4,827.2 210,823 216.3,820.4 223,817 230,815 235.4,813 241,813.3 246.3,814.3 256,815 266.7,816.3 274,818 280.4,820.4 287.2,824.5 293,823.2 300.8,822.5 311,823 321.2,824.5 328,827 334.9,830 343,833 351.9,836.8 348.5,840.9 342,843.5 334.9,846.3 325,851 314.4,857.2 310,857 304.9,855.9 296,855 287.2,854.5 272,852 257.2,849 249,849 245,847.5 242.2,845 230,843.5 219,842.2 208,841 198.6,839.5 193.2,838.1" fill="#fff" stroke="#7a7a7a" stroke-width="0.9" stroke-linejoin="round"/>
<path d="M255.2,837.5 Q264,826 279,827.2 Q266,829.5 257.5,838.5 Z" fill="#666" stroke="#666" stroke-width="1"/>
<path d="M316.5,847.7 Q325,836 340.3,836.8 Q327,839.5 318.8,848.6 Z" fill="#666" stroke="#666" stroke-width="1"/>
<path d="M98.5,897.4 L236.2,930.3 L357,872" fill="none" stroke="#de2830" stroke-width="2.8"/>
<path d="M116.5,893 L98.5,897.4 L106,910" fill="none" stroke="#de2830" stroke-width="2.8"/>
<path d="M343.3,871.6 L357,872 L351.8,886.8" fill="none" stroke="#de2830" stroke-width="2.8"/>
<text x="362" y="810.7" font-weight="bold" font-size="38" fill="#6a6a6a" textLength="144" lengthAdjust="spacingAndGlyphs">90 x 200</text>
</svg></body></html>
